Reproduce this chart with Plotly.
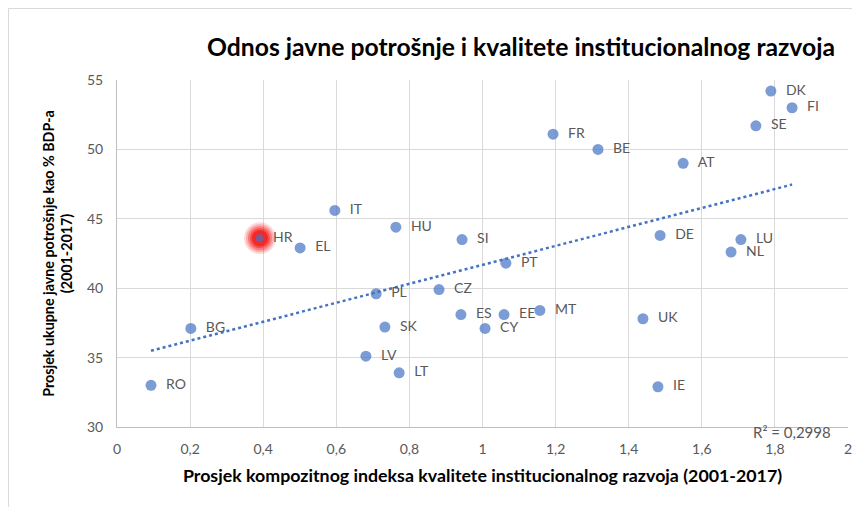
import numpy as np
import plotly.graph_objects as go

countries = ["DK", "FI", "SE", "FR", "BE", "AT", "IT", "HU", "SI", "HR", "EL", "DE", "LU", "NL",
             "PT", "PL", "CZ", "ES", "EE", "MT", "CY", "UK", "SK", "BG", "LV", "LT", "RO", "IE"]
inst_quality = [1.789, 1.847, 1.748, 1.193, 1.316, 1.549, 0.596, 0.763, 0.944, 0.391, 0.501, 1.486, 1.707, 1.680,
                1.064, 0.709, 0.881, 0.941, 1.059, 1.157, 1.007, 1.439, 0.733, 0.202, 0.681, 0.772, 0.093, 1.480]
public_spending = [54.2, 53.0, 51.7, 51.1, 50.0, 49.0, 45.6, 44.4, 43.5, 43.6, 42.9, 43.8, 43.5, 42.6,
                   41.8, 39.6, 39.9, 38.1, 38.1, 38.4, 37.1, 37.8, 37.2, 37.1, 35.1, 33.9, 33.0, 32.9]
highlight = "HR"
r2_label = "R² = 0,2998"

FONT = "Lato"
BLUE = "#4472C4"
GREY = "#595959"

# page body has an 8px margin; compensate so the figure lands where the reference is
W, H = 852, 499

x = np.array(inst_quality)
y = np.array(public_spending)
slope, intercept = np.polyfit(x, y, 1)
tx = np.array([x.min(), x.max()])
ty = slope * tx + intercept

fig = go.Figure()

# trendline
fig.add_trace(go.Scatter(x=tx, y=ty, mode="lines",
                         line=dict(color=BLUE, width=2.5, dash="dot"),
                         hoverinfo="skip", showlegend=False))

# highlight glow (concentric translucent red discs)
hi = countries.index(highlight)
for s, op in [(32, 0.15), (28, 0.22), (24, 0.32), (20, 0.45), (16, 0.65)]:
    fig.add_trace(go.Scatter(x=[inst_quality[hi]], y=[public_spending[hi]], mode="markers",
                             marker=dict(size=s, color="rgb(245,20,20)", opacity=op, line=dict(width=0)),
                             hoverinfo="skip", showlegend=False))

sizes = [8 if c == highlight else 11 for c in countries]
fig.add_trace(go.Scatter(x=inst_quality, y=public_spending, mode="markers+text",
                         text=["  " + c for c in countries], textposition="middle right",
                         textfont=dict(family=FONT, size=14, color=GREY),
                         marker=dict(size=sizes, color=BLUE, line=dict(width=0)),
                         showlegend=False))

fig.add_annotation(x=x.max(), y=-0.014, xref="x", yref="paper", text=r2_label, showarrow=False,
                   font=dict(family=FONT, size=15, color=GREY), xanchor="center", yanchor="middle")

fig.add_shape(type="rect", xref="paper", yref="paper",
              x0=-108.5 / 731, x1=1.2, y0=-0.4, y1=1 + 71.5 / 347,
              line=dict(color="#d9d9d9", width=1), fillcolor="rgba(0,0,0,0)", layer="below")

fig.update_layout(
    width=W, height=H,
    margin=dict(l=109, r=12, t=72, b=80, autoexpand=False),
    paper_bgcolor="white", plot_bgcolor="white",
    separators=", ",
    font=dict(family=FONT, color=GREY),
    title=dict(text="<b>Odnos javne potrošnje i kvalitete institucionalnog razvoja</b>",
               x=513 / W, xanchor="center", xref="container", y=1 - 39 / H, yanchor="middle",
               font=dict(family=FONT, size=24.7, color="black")),
    xaxis=dict(range=[0, 2], dtick=0.2, tick0=0, showgrid=True, gridcolor="#d9d9d9", gridwidth=1,
               zeroline=False, showline=True, linecolor="#bfbfbf", ticks="", automargin=False,
               ticklabelstandoff=9,
               tickfont=dict(family=FONT, size=14, color=GREY),
               title=dict(text="<b>Prosjek kompozitnog indeksa kvalitete institucionalnog razvoja (2001-2017)</b>",
                          font=dict(family=FONT, size=17.8, color="black"), standoff=13)),
    yaxis=dict(range=[30, 55], dtick=5, showgrid=True, gridcolor="#d9d9d9", gridwidth=1,
               zeroline=False, showline=True, linecolor="#bfbfbf", ticks="", automargin=False,
               ticklabelstandoff=10,
               tickfont=dict(family=FONT, size=14, color=GREY),
               title=dict(text="<b>Prosjek ukupne javne potrošnje kao % BDP-a<br>(2001-2017)</b>",
                          font=dict(family=FONT, size=14.3, color="black"), standoff=10)),
)

fig.write_html("out.html")
